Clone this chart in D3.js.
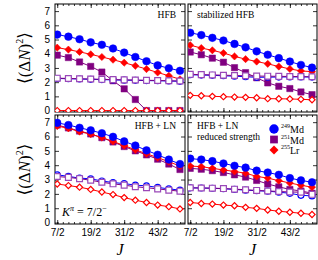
<!DOCTYPE html>
<html>
<head>
<meta charset="utf-8">
<script src="https://cdn.jsdelivr.net/npm/d3@7"></script>
<style>
    body { margin: 0; background: #fff; }
    svg { display: block; font-family: "Liberation Serif", "DejaVu Serif", serif; }
    .tick text { font-size: 10px; fill: #000; }
    .tick line { stroke: #000; stroke-width: 0.8; }
</style>
</head>
<body>
<div id="chart"></div>
<script>
// J values (spin), one point every 2 units
const jValues = [3.5, 5.5, 7.5, 9.5, 11.5, 13.5, 15.5, 17.5, 19.5, 21.5, 23.5, 25.5];
const xTickValues = [3.5, 9.5, 15.5, 21.5];
const xTickLabels = ["7/2", "19/2", "31/2", "43/2"];
const yTickValues = [0, 1, 2, 3, 4, 5, 6, 7];

// HFB
const hfbMd249 = [5.35, 5.2, 5.02, 4.8, 4.63, 4.37, 4.08, 3.77, 3.47, 3.18, 2.98, 2.8];
const hfbMd251 = [3.9, 3.73, 3.42, 3.11, 2.71, 2.1, 1.53, 0.78, 0, 0, 0, 0];
const hfbLr255 = [4.43, 4.29, 4.13, 3.96, 3.77, 3.58, 3.37, 3.15, 2.92, 2.68, 2.45, 2.2];
const hfbMd249Open = [2.26, 2.24, 2.22, 2.2, 2.18, 2.16, 2.14, 2.13, 2.11, 2.1, 2.08, 2.06];
const hfbMd251Open = [2.28, 2.26, 2.24, 2.22, 2.2, 2.18, 2.16, 2.15, 2.13, 2.12, 2.1, 2.08];
const hfbLr255Open = [0, 0, 0, 0, 0, 0, 0, 0, 0, 0, 0, 0];

// stabilized HFB
const stabMd249 = [5.48, 5.31, 5.12, 4.93, 4.69, 4.45, 4.17, 3.93, 3.69, 3.45, 3.21, 3.02];
const stabMd251 = [4.12, 3.93, 3.69, 3.4, 3.02, 2.67, 2.31, 1.95, 1.71, 1.55, 1.31, 1.12];
const stabLr255 = [4.6, 4.4, 4.24, 4.05, 3.81, 3.62, 3.45, 3.29, 3.1, 2.93, 2.79, 2.74];
const stabMd249Open = [2.52, 2.5, 2.48, 2.45, 2.42, 2.38, 2.34, 2.35, 2.36, 2.37, 2.37, 2.36];
const stabMd251Open = [2.55, 2.53, 2.51, 2.49, 2.47, 2.45, 2.43, 2.42, 2.41, 2.4, 2.39, 2.38];
const stabLr255Open = [1.07, 1.04, 1.0, 0.98, 0.95, 0.93, 0.9, 0.84, 0.83, 0.82, 0.79, 0.76];

// HFB + LN
const lnMd249 = [6.95, 6.8, 6.61, 6.43, 6.23, 5.98, 5.66, 5.37, 5.03, 4.73, 4.39, 4.08];
const lnMd251 = [6.8, 6.6, 6.38, 6.18, 5.92, 5.62, 5.3, 5.0, 4.72, 4.42, 4.08, 3.7];
const lnLr255 = [6.73, 6.57, 6.34, 6.16, 5.93, 5.66, 5.37, 5.07, 4.8, 4.53, 4.24, 3.94];
const lnMd249Open = [3.33, 3.22, 3.1, 3.05, 2.9, 2.79, 2.72, 2.61, 2.56, 2.45, 2.35, 2.26];
const lnMd251Open = [3.21, 3.15, 3.06, 2.95, 2.81, 2.7, 2.61, 2.5, 2.43, 2.35, 2.26, 2.19];
const lnLr255Open = [2.69, 2.58, 2.47, 2.31, 2.13, 1.95, 1.74, 1.56, 1.4, 1.22, 1.11, 0.95];

// HFB + LN, reduced strength
const redMd249 = [4.46, 4.39, 4.28, 4.12, 3.96, 3.83, 3.62, 3.49, 3.33, 3.1, 2.94, 2.81];
const redMd251 = [3.78, 3.72, 3.62, 3.49, 3.33, 3.17, 2.94, 2.69, 2.49, 2.31, 2.2, 2.05];
const redLr255 = [3.94, 3.9, 3.78, 3.67, 3.56, 3.44, 3.22, 3.1, 2.92, 2.76, 2.6, 2.47];
const redMd249Open = [2.42, 2.41, 2.39, 2.36, 2.31, 2.26, 2.22, 2.19, 2.12, 2.04, 1.9, 1.86];
const redMd251Open = [2.42, 2.41, 2.4, 2.37, 2.33, 2.29, 2.24, 2.2, 2.17, 2.13, 2.12, 1.97];
const redLr255Open = [1.4, 1.33, 1.29, 1.22, 1.17, 1.06, 0.99, 0.88, 0.79, 0.72, 0.65, 0.56];

const panelLabels = [["HFB"], ["stabilized HFB"], ["HFB + LN"], ["HFB + LN", "reduced strength"]];
const legendNuclei = [["249", "Md"], ["251", "Md"], ["255", "Lr"]];

const blue = "#0000ff", red = "#ff0000", purple = "#800080", lilac = "#9a48b8";

const width = 318, height = 260;
const cols = [[55, 185], [188, 317]];
const rows = [[4, 112], [115, 224]];

const svg = d3.select("#chart").append("svg").attr("width", width).attr("height", height);

// diamonds are drawn as squares turned by 45 degrees
function seriesFor(md249, md251, lr255, md249o, md251o, lr255o) {
    // drawing order matters: open markers sit on top
    return [
        { values: md251, shape: d3.symbolSquare, size: 40, rot: 0, fill: purple, stroke: purple, line: purple },
        { values: lr255, shape: d3.symbolSquare, size: 26, rot: 45, fill: red, stroke: red, line: red },
        { values: md249, shape: d3.symbolCircle, size: 46, rot: 0, fill: blue, stroke: blue, line: blue },
        { values: md249o, shape: d3.symbolCircle, size: 28, rot: 0, fill: "#fff", stroke: blue, line: blue },
        { values: md251o, shape: d3.symbolSquare, size: 34, rot: 0, fill: "#fff", stroke: lilac, line: purple },
        { values: lr255o, shape: d3.symbolSquare, size: 19, rot: 45, fill: "#fff", stroke: red, line: red }
    ];
}

const panels = [
    seriesFor(hfbMd249, hfbMd251, hfbLr255, hfbMd249Open, hfbMd251Open, hfbLr255Open),
    seriesFor(stabMd249, stabMd251, stabLr255, stabMd249Open, stabMd251Open, stabLr255Open),
    seriesFor(lnMd249, lnMd251, lnLr255, lnMd249Open, lnMd251Open, lnLr255Open),
    seriesFor(redMd249, redMd251, redLr255, redMd249Open, redMd251Open, redLr255Open)
];

panels.forEach((series, i) => {
    let c = i % 2, r = Math.floor(i / 2);
    let x = d3.scaleLinear().domain([3.1, 26.4]).range(cols[c]);
    let y = d3.scaleLinear().domain([-0.1, 7.5]).range([rows[r][1], rows[r][0]]);
    let g = svg.append("g");

    let clipId = "clip" + i;
    g.append("clipPath").attr("id", clipId).append("rect")
        .attr("x", cols[c][0]).attr("y", rows[r][0])
        .attr("width", cols[c][1] - cols[c][0]).attr("height", rows[r][1] - rows[r][0]);

    // axes, ticks pointing inward on all four sides
    let minor = d3.range(3.5, 26.4, 1);
    g.append("g").attr("transform", `translate(0,${rows[r][1]})`)
        .call(d3.axisBottom(x).tickValues(minor).tickSize(-2).tickFormat(""));
    g.append("g").attr("transform", `translate(0,${rows[r][0]})`)
        .call(d3.axisTop(x).tickValues(minor).tickSize(-2).tickFormat(""));
    g.append("g").attr("transform", `translate(0,${rows[r][1]})`)
        .call(d3.axisBottom(x).tickValues(xTickValues).tickSize(-4).tickPadding(5)
            .tickFormat((d, k) => r == 1 ? xTickLabels[k] : ""));
    g.append("g").attr("transform", `translate(0,${rows[r][0]})`)
        .call(d3.axisTop(x).tickValues(xTickValues).tickSize(-4).tickFormat(""));
    g.append("g").attr("transform", `translate(${cols[c][0]},0)`)
        .call(d3.axisLeft(y).tickValues(yTickValues).tickSize(-4).tickPadding(5)
            .tickFormat(d => c == 0 ? d : ""));
    g.append("g").attr("transform", `translate(${cols[c][1]},0)`)
        .call(d3.axisRight(y).tickValues(yTickValues).tickSize(-4).tickFormat(""));
    g.selectAll(".domain").remove();

    g.append("rect")
        .attr("x", cols[c][0]).attr("y", rows[r][0])
        .attr("width", cols[c][1] - cols[c][0]).attr("height", rows[r][1] - rows[r][0])
        .attr("fill", "none").attr("stroke", "#000").attr("stroke-width", 1);

    let plot = g.append("g").attr("clip-path", `url(#${clipId})`);
    let line = d3.line().x((d, k) => x(jValues[k])).y(d => y(d));

    series.forEach(s => {
        plot.append("path").datum(s.values)
            .attr("d", line).attr("fill", "none")
            .attr("stroke", s.line).attr("stroke-width", 1);
        plot.selectAll(null).data(s.values).enter().append("path")
            .attr("d", d3.symbol().type(s.shape).size(s.size))
            .attr("transform", (d, k) => `translate(${x(jValues[k])},${y(d)}) rotate(${s.rot})`)
            .attr("fill", s.fill).attr("stroke", s.stroke)
            .attr("stroke-width", s.fill == "#fff" ? 1.2 : 0.5);
    });

    // panel labels
    let lab = g.append("text").attr("font-size", 9.5);
    if (c == 0) {
        lab.attr("x", cols[c][1] - 9).attr("text-anchor", "end");
    } else {
        lab.attr("x", cols[c][0] + 9);
    }
    panelLabels[i].forEach((t, k) => {
        lab.append("tspan").attr("x", lab.attr("x")).attr("y", rows[r][0] + 14 + k * 11).text(t);
    });

    // y axis title for each row
    if (c == 0) {
        let yl = svg.append("text")
            .attr("transform", `translate(30,${(rows[r][0] + rows[r][1]) / 2}) rotate(-90)`)
            .attr("text-anchor", "middle").attr("font-size", 17);
        yl.append("tspan").text("⟨(Δ");
        yl.append("tspan").attr("font-style", "italic").text("N");
        yl.append("tspan").text(")");
        yl.append("tspan").attr("font-size", 10).attr("dy", -7).text("2");
        yl.append("tspan").attr("dy", 7).text("⟩");
    }

    // x axis title for bottom row
    if (r == 1) {
        svg.append("text")
            .attr("x", (cols[c][0] + cols[c][1]) / 2).attr("y", 255)
            .attr("text-anchor", "middle").attr("font-size", 16)
            .attr("font-style", "italic").text("J");
    }
});

// K^pi label
let k = svg.append("text").attr("x", 62).attr("y", 216).attr("font-size", 12);
k.append("tspan").attr("font-style", "italic").text("K");
k.append("tspan").attr("font-style", "italic").attr("font-size", 8).attr("dy", -5).text("π");
k.append("tspan").attr("dy", 5).text(" = 7/2");
k.append("tspan").attr("font-size", 8).attr("dy", -5).text("−");

// legend in the last panel
const legendShapes = [
    { shape: d3.symbolCircle, size: 70, rot: 0, color: blue },
    { shape: d3.symbolSquare, size: 60, rot: 0, color: purple },
    { shape: d3.symbolSquare, size: 40, rot: 45, color: red }
];
legendShapes.forEach((l, i) => {
    let ly = 129 + i * 10.5;
    svg.append("path")
        .attr("d", d3.symbol().type(l.shape).size(l.size))
        .attr("transform", `translate(274,${ly}) rotate(${l.rot})`)
        .attr("fill", l.color);
    let t = svg.append("text").attr("x", 281).attr("y", ly + 4).attr("font-size", 10);
    t.append("tspan").attr("font-size", 6).attr("dy", -5).text(legendNuclei[i][0]);
    t.append("tspan").attr("dy", 5).text(legendNuclei[i][1]);
});
</script>
</body>
</html>
